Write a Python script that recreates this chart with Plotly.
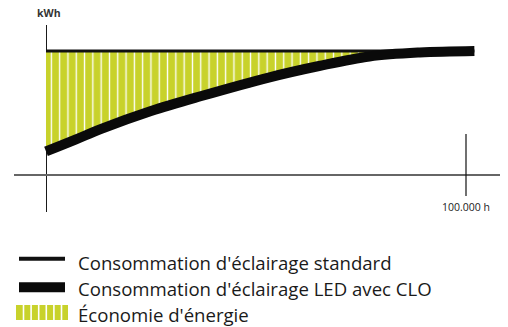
import plotly.graph_objects as go

# ---- data ----
hours_std = [0, 102000]
kwh_std = [100, 100]

hours_led = [0, 7000, 13000, 25000, 37000, 53000, 65000, 77000, 89000, 102000]
kwh_led = [19, 28.5, 37, 51.6, 63.7, 78.6, 87.9, 95.6, 98.8, 100]

x_tick_vals = [100000]
x_tick_text = ["100.000 h"]
y_title = "kWh"

legend_labels = [
    "Consommation d'éclairage standard",
    "Consommation d'éclairage LED avec CLO",
    "Économie d'énergie",
]

# ---- styles ----
W, H = 508, 327
ML, MR, MT, MB = 14, 8, 25, 115
GREEN = "#c8d22b"
FONT = "Open Sans"

x_range = [-7619, 108095]
y_range = [-29.84, 120.97]


def px_x(px):
    return (px - ML) / (W - ML - MR)


def px_y(py):
    return (H - MB - py) / (H - MT - MB)


fig = go.Figure()

# base of the saving area (standard consumption)
fig.add_trace(go.Scatter(
    x=hours_std, y=kwh_std, mode="lines", line=dict(width=0),
    showlegend=False, hoverinfo="skip"))

# saving area between standard and LED
fig.add_trace(go.Scatter(
    x=hours_led, y=kwh_led, mode="lines",
    line=dict(width=0, shape="spline", smoothing=1.0),
    fill="tonexty", fillcolor=GREEN,
    fillpattern=dict(shape="|", fgcolor="white", bgcolor=GREEN,
                     size=8.3, solidity=0.16, fillmode="replace"),
    name=legend_labels[2], showlegend=False, hoverinfo="skip"))

# standard line
fig.add_trace(go.Scatter(
    x=hours_std, y=kwh_std, mode="lines",
    line=dict(color="#111111", width=3),
    name=legend_labels[0], showlegend=False))

# LED line
fig.add_trace(go.Scatter(
    x=hours_led, y=kwh_led, mode="lines",
    line=dict(color="#0a0a0a", width=10, shape="spline", smoothing=1.0),
    name=legend_labels[1], showlegend=False))

shapes = []
annotations = []

# tick mark at 100.000 h
for xv, xt in zip(x_tick_vals, x_tick_text):
    shapes.append(dict(type="line", xref="x", yref="paper", x0=xv, x1=xv,
                       y0=px_y(196), y1=px_y(134),
                       line=dict(color="#111111", width=1.2)))
    annotations.append(dict(x=xv, xref="x", y=px_y(206.5), yref="paper",
                            text=xt, showarrow=False,
                            font=dict(family=FONT, size=10.5, color="#222222"),
                            xanchor="center", yanchor="middle"))

# y axis title
annotations.append(dict(x=px_x(49), y=px_y(13), xref="paper", yref="paper",
                        text="<b>" + y_title + "</b>", showarrow=False,
                        font=dict(family=FONT, size=10.5, color="#333333"),
                        xanchor="center", yanchor="middle"))

# ---- custom legend ----
row_y = [262, 288, 314]
shapes.append(dict(type="line", xref="paper", yref="paper",
                   x0=px_x(19), x1=px_x(65), y0=px_y(258.8), y1=px_y(258.8),
                   line=dict(color="#111111", width=4)))
shapes.append(dict(type="line", xref="paper", yref="paper",
                   x0=px_x(19), x1=px_x(65), y0=px_y(287.3), y1=px_y(287.3),
                   line=dict(color="#0a0a0a", width=10)))
shapes.append(dict(type="rect", xref="paper", yref="paper",
                   x0=px_x(16), x1=px_x(68), y0=px_y(320), y1=px_y(305),
                   fillcolor=GREEN, line=dict(width=0)))
for i in range(6):
    sx = 23.5 + i * 7.6
    shapes.append(dict(type="line", xref="paper", yref="paper",
                       x0=px_x(sx), x1=px_x(sx), y0=px_y(320), y1=px_y(305),
                       line=dict(color="white", width=1.6)))
for lab, ry in zip(legend_labels, row_y):
    annotations.append(dict(x=px_x(76), y=px_y(ry), xref="paper", yref="paper",
                            text=lab, showarrow=False,
                            font=dict(family=FONT, size=18.6, color="#1a1a1a"),
                            xanchor="left", yanchor="middle"))

fig.update_layout(
    width=W, height=H,
    margin=dict(l=ML, r=MR, t=MT, b=MB, pad=0),
    paper_bgcolor="white", plot_bgcolor="white",
    showlegend=False,
    xaxis=dict(range=x_range, showgrid=False, showticklabels=False, ticks="",
               zeroline=True, zerolinecolor="#1a1a1a", zerolinewidth=1.2,
               showline=False, fixedrange=True),
    yaxis=dict(range=y_range, showgrid=False, showticklabels=False, ticks="",
               zeroline=True, zerolinecolor="#666666", zerolinewidth=1.5,
               showline=False, fixedrange=True),
    shapes=shapes,
    annotations=annotations,
)

fig.write_html(
    "out.html",
    config={"displayModeBar": False},
    post_script="document.body.style.margin='0';document.body.style.overflow='hidden';",
)
